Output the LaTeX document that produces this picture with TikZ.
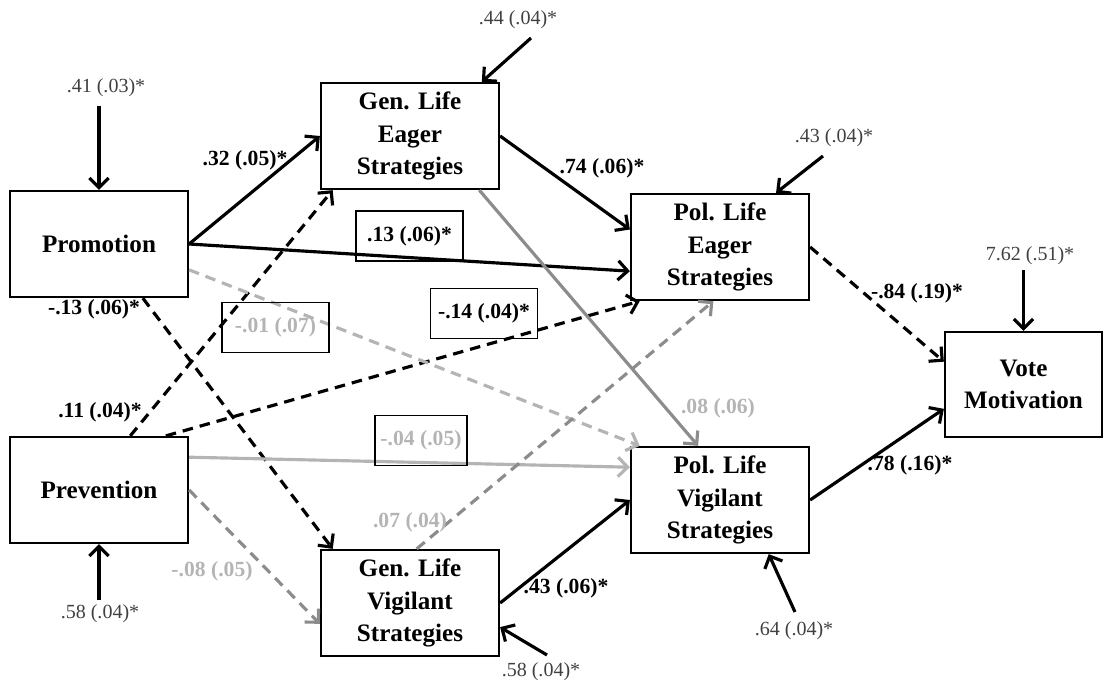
\documentclass[tikz,border=0pt]{standalone}
\usepackage{fontspec}
\setmainfont{Liberation Serif}
\usepackage{tikz,xcolor}
\usetikzlibrary{arrows.meta}
\definecolor{lgray}{HTML}{B4B4B4}
\definecolor{mgray}{HTML}{8C8C8C}
\definecolor{vgray}{HTML}{404040}

\begin{document}
\begin{tikzpicture}[x=0.02cm,y=-0.02cm,line width=1.8pt,>={Straight Barb[length=5.5pt,width=11pt]}]
    \useasboundingbox (0,0) rectangle (1110,684);
    \tikzstyle{dsh}=[dash pattern=on 6pt off 4pt]
    \tikzstyle{lab}=[font=\fontsize{12.3}{14}\selectfont\bfseries]
    \tikzstyle{lbox}=[lab,draw,line width=1.1pt,minimum width=2.14cm,minimum height=1cm]
    \tikzstyle{err}=[font=\fontsize{11.4}{13}\selectfont,text=vgray]

    \tikzstyle{every node}=[draw,line width=1.3pt,align=center,minimum width=3.56cm,minimum height=2.12cm,font=\fontsize{14.3}{18.5}\selectfont\bfseries]
    \node(prom) at (99,244){Promotion};
    \node(prev) at (99,490){Prevention};
    \node(ge) at (410,136){Gen. Life\\Eager\\Strategies};
    \node(gv) at (410,603){Gen. Life\\Vigilant\\Strategies};
    \node(pe) at (720,247){Pol. Life\\Eager\\Strategies};
    \node(pv) at (720,500){Pol. Life\\Vigilant\\Strategies};
    \node[minimum width=3.14cm,minimum height=2.1cm](vote) at (1023.5,384.5){Vote\\Motivation};

    \tikzstyle{every node}=[]

    % paths
    \draw[->](prom.east)--(ge.west);
    \draw[->](prom.east)--(pe.195);
    \draw[->](ge.east)--(pe.169);
    \draw[->](gv.east)--(pv.west);
    \draw[->,dsh](pe.east)--(vote.164);
    \draw[->](pv.east)--(vote.197);
    \draw[->,dsh](prom.-51)--(gv.145);
    \draw[->,dsh](prev.60)--(ge.215);
    \draw[->,dsh](prev.39)--(pe.214);
    \draw[->,dsh,lgray](prom.-16)--(pv.146);
    \draw[->,lgray](prev.20)--(pv.160);
    \draw[->,dsh,mgray](prev.east)--(gv.193);
    \draw[->,dsh,mgray](gv.83)--(pe.263);
    \draw[->,mgray](ge.-38)--(pv.112);

    % path labels
    \node[lab](l1) at (245,160){.32 (.05)*};
    \node[lab](l2) at (602,168){.74 (.06)*};
    \node[lbox](l3) at (409.5,236){.13 (.06)*};
    \node[lbox](l4) at (484,313.5){-.14 (.04)*};
    \node[lbox,text=lgray](l5) at (275.5,327.5){-.01 (.07)};
    \node[lbox,text=lgray,minimum width=1.72cm](l6) at (421,440.5){-.04 (.05)};
    \node[lab](l7) at (94,309){-.13 (.06)*};
    \node[lab](l8) at (100,412){.11 (.04)*};
    \node[lab,text=lgray](l9) at (212,571){-.08 (.05)};
    \node[lab,text=lgray](l10) at (410,522){.07 (.04)};
    \node[lab,text=lgray](l11) at (718,408){.08 (.06)};
    \node[lab](l12) at (566,588){.43 (.06)*};
    \node[lab](l13) at (917,293){-.84 (.19)*};
    \node[lab](l14) at (910,465){.78 (.16)*};

    % residuals
    \node[err](r1) at (106,88){.41 (.03)*};
    \node[err](r2) at (518,20){.44 (.04)*};
    \node[err](r3) at (834,138){.43 (.04)*};
    \node[err](r4) at (1030,256){7.62 (.51)*};
    \node[err](r5) at (100,614){.58 (.04)*};
    \node[err](r6) at (541,672){.58 (.04)*};
    \node[err](r7) at (794,631){.64 (.04)*};
    \coordinate (e1) at (99,106);
    \coordinate (e2) at (531,38);
    \coordinate (e3) at (823,156);
    \coordinate (e4) at (1023.5,270);
    \coordinate (e5) at (99,600);
    \coordinate (e6) at (547,655);
    \coordinate (e7) at (795,612);
    \draw[->](e1)--(prom.north);
    \draw[->](e2)--(ge.37);
    \draw[->](e3)--(pe.44);
    \draw[->](e4)--(vote.north);
    \draw[->](e5)--(prev.south);
    \draw[->](e6)--(gv.-15);
    \draw[->](e7)--(pv.-48);

\end{tikzpicture}
\end{document}
